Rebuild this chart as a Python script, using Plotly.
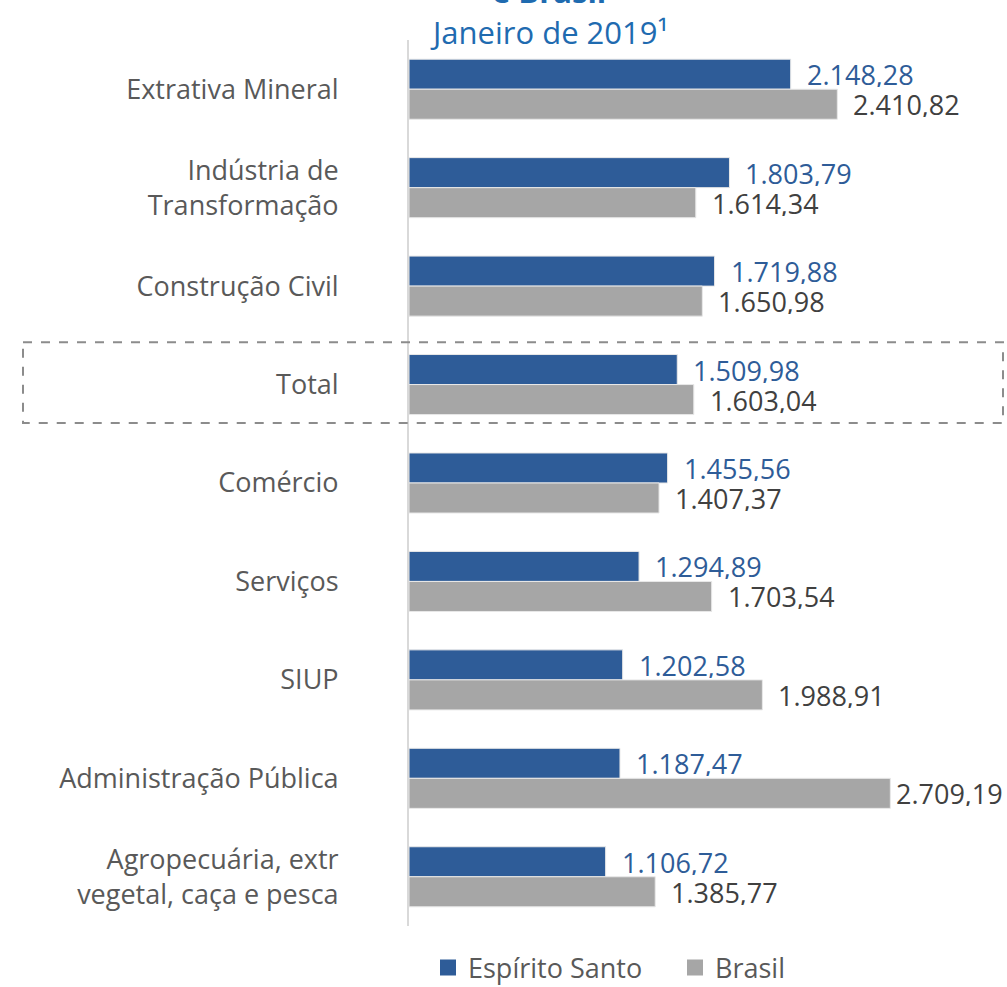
import plotly.graph_objects as go

categories = [
    "Extrativa Mineral",
    "Indústria de<br>Transformação",
    "Construção Civil",
    "Total",
    "Comércio",
    "Serviços",
    "SIUP",
    "Administração Pública",
    "Agropecuária, extr<br>vegetal, caça e pesca",
]
espirito_santo = [2148.28, 1803.79, 1719.88, 1509.98, 1455.56, 1294.89, 1202.58, 1187.47, 1106.72]
brasil = [2410.82, 1614.34, 1650.98, 1603.04, 1407.37, 1703.54, 1988.91, 2709.19, 1385.77]
series_names = ["Espírito Santo", "Brasil"]
title_lines = ["e Brasil", "Janeiro de 2019¹"]

BLUE = "#2E5C98"
GRAY = "#A6A6A6"
FONT = "Open Sans"

def fmt(v):
    s = f"{v:,.2f}"
    return s.replace(",", "X").replace(".", ",").replace("X", ".")

W, H = 1007, 987
ML, MR, MT, MB = 409, 65, 40, 61
XMAX = 3000
PW = W - ML - MR
PH = H - MT - MB
scale = PW / XMAX

def py(px):
    return 1 + (MT - px) / PH

fig = go.Figure()
fig.add_trace(go.Bar(y=categories, x=espirito_santo, orientation="h", name=series_names[0],
                     showlegend=False,
                     marker=dict(color=BLUE, line=dict(color="#e8e8e8", width=1))))
fig.add_trace(go.Bar(y=categories, x=brasil, orientation="h", name=series_names[1],
                     showlegend=False,
                     marker=dict(color=GRAY, line=dict(color="#e8e8e8", width=1))))
# legend entries with larger square swatches
for nm, col in zip(series_names, [BLUE, GRAY]):
    fig.add_trace(go.Scatter(x=[None], y=[None], mode="markers", name=nm,
                             marker=dict(symbol="square", size=17, color=col)))

annotations = []
for vals, col, ys in [(espirito_santo, "#2E5C98", 15), (brasil, "#404040", -15)]:
    for c, v in zip(categories, vals):
        end_px = ML + v * scale
        xs = min(14, (W - 3) - end_px - 110)
        annotations.append(dict(x=v, y=c, xref="x", yref="y", text=fmt(v), showarrow=False,
                                xanchor="left", yanchor="middle", xshift=xs, yshift=ys, height=26,
                                font=dict(family=FONT, size=27, color=col)))

annotations.append(dict(x=(549 - ML) / PW, y=py(-9), xref="paper", yref="paper",
                        text="<b>" + title_lines[0] + "</b>",
                        showarrow=False, xanchor="center", yanchor="middle",
                        font=dict(family=FONT, size=31, color="#1F6BB0")))
annotations.append(dict(x=(549 - ML) / PW, y=py(32), xref="paper", yref="paper",
                        text=title_lines[1],
                        showarrow=False, xanchor="center", yanchor="middle",
                        font=dict(family=FONT, size=31, color="#1F6BB0")))

fig.update_layout(
    width=W, height=H,
    margin=dict(l=ML, r=MR, t=MT, b=MB, autoexpand=False),
    paper_bgcolor="white", plot_bgcolor="white",
    barmode="group", bargap=0.39, bargroupgap=0,
    showlegend=True,
    legend=dict(orientation="h", x=(428 - ML) / PW, xanchor="left",
                yref="container", y=1 - 968 / H, yanchor="middle",
                entrywidth=202, entrywidthmode="pixels",
                font=dict(family=FONT, size=27, color="#595959"), itemwidth=30,
                traceorder="normal", bgcolor="rgba(0,0,0,0)"),
    annotations=annotations,
    font=dict(family=FONT),
)
fig.update_xaxes(range=[0, XMAX], showgrid=False, zeroline=False, showticklabels=False, showline=False)
fig.update_yaxes(autorange="reversed", showgrid=False, showline=True, linecolor="#D9D9D9", linewidth=2,
                 ticks="", ticklabelstandoff=63, zeroline=False,
                 tickfont=dict(family=FONT, size=27, color="#595959"))

fig.add_shape(type="rect", xref="paper", yref="y", x0=(23 - ML) / PW,
              x1=(1003 - ML) / PW, y0=3 - 0.43, y1=3 + 0.39,
              line=dict(color="#8C8C8C", width=2, dash="dash"), fillcolor="rgba(0,0,0,0)", layer="above")

fig.write_html("out.html", config={"displayModeBar": False},
               post_script="document.body.style.margin='0px';")
